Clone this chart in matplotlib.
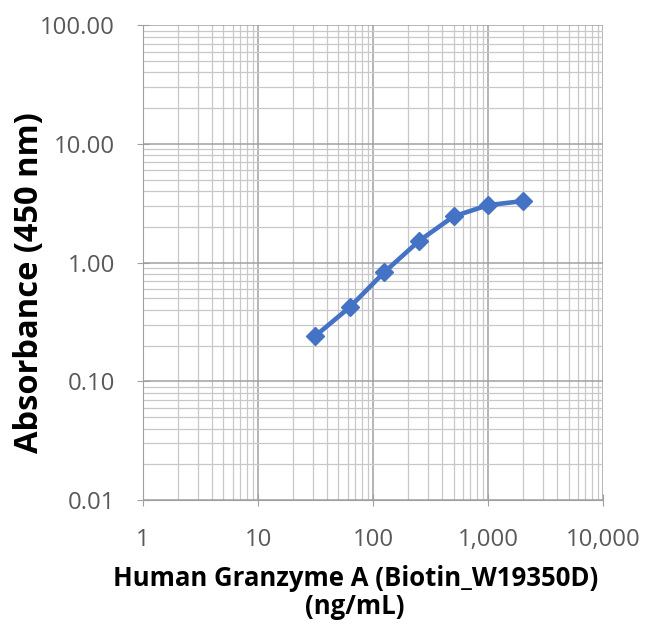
import matplotlib
matplotlib.use('Agg')
import matplotlib.pyplot as plt
from matplotlib.ticker import FixedLocator, LogLocator, NullFormatter

# Courbe standard ELISA
conc = [31.25, 62.5, 125, 250, 500, 1000, 2000]
absorb = [0.24, 0.42, 0.83, 1.52, 2.45, 3.05, 3.3]
x_ticks = [1, 10, 100, 1000, 10000]
x_labels = ["1", "10", "100", "1,000", "10,000"]
y_ticks = [0.01, 0.1, 1, 10, 100]
y_labels = ["0.01", "0.10", "1.00", "10.00", "100.00"]

plt.rcParams['font.family'] = ['Open Sans', 'DejaVu Sans']

fig = plt.figure(figsize=(6.5, 6.31), dpi=100)
ax = fig.add_axes([0.22, 0.2076, 0.708, 0.7524])

ax.plot(conc, absorb, color='#4472C4', lw=3.3, marker='D', ms=9, zorder=3)

ax.set_xscale('log'); ax.set_yscale('log')
ax.set_xlim(1, 10000); ax.set_ylim(0.01, 100)
ax.xaxis.set_major_locator(FixedLocator(x_ticks))
ax.set_xticklabels(x_labels)
ax.yaxis.set_major_locator(FixedLocator(y_ticks))
ax.set_yticklabels(y_labels)
ax.xaxis.set_minor_locator(LogLocator(base=10, subs=range(2, 10)))
ax.yaxis.set_minor_locator(LogLocator(base=10, subs=range(2, 10)))
ax.xaxis.set_minor_formatter(NullFormatter())
ax.yaxis.set_minor_formatter(NullFormatter())

ax.grid(True, which='major', color='#a0a0a0', lw=1.1)
ax.grid(True, which='minor', color='#c8c8c8', lw=0.9)
for s in ['top', 'right']:
    ax.spines[s].set_visible(False)
for s in ['left', 'bottom']:
    ax.spines[s].set_color('#a0a0a0')
ax.tick_params(which='major', direction='inout', length=8, color='#a0a0a0',
               labelsize=17.2, labelcolor='#595959')
ax.tick_params(axis='y', which='major', pad=16)
ax.tick_params(axis='x', which='major', pad=16)
ax.tick_params(which='minor', length=0)

ax.set_ylabel("Absorbance (450 nm)", fontsize=23.5, fontweight='bold', va='center')
ax.yaxis.set_label_coords(-0.246, 0.457)
ax.set_xlabel("Human Granzyme A (Biotin_W19350D)\n(ng/mL)", fontsize=18.5,
              fontweight='bold', linespacing=1.05, va='top')
ax.xaxis.set_label_coords(0.461, -0.136)

plt.savefig("out.png", dpi=100)
